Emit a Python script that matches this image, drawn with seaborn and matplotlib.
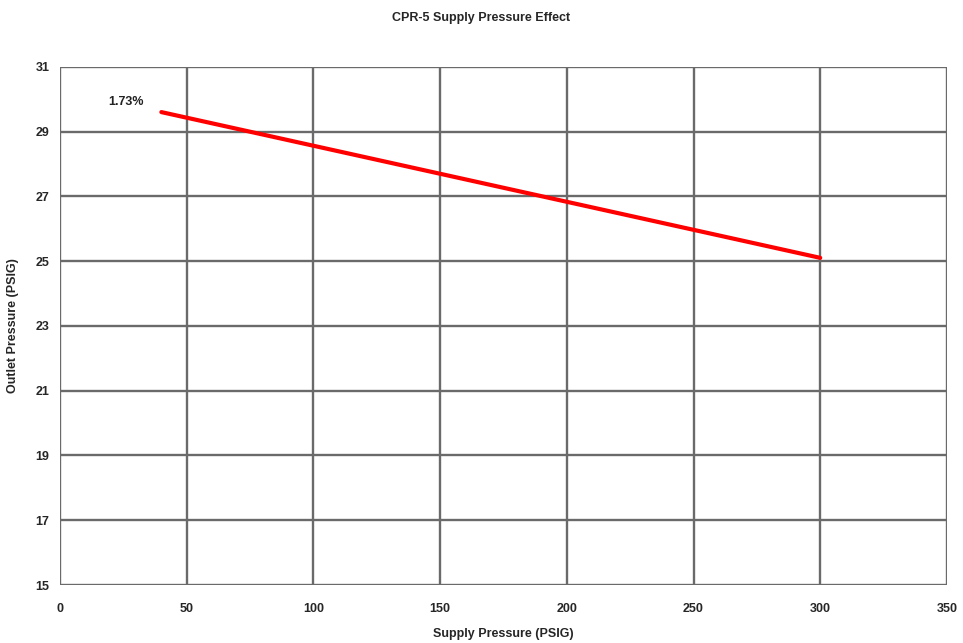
import matplotlib
matplotlib.use("Agg")
import matplotlib.pyplot as plt
import seaborn as sns
import pandas as pd

# values
supply_psig = [40, 300]
outlet_psig = [29.6, 25.1]
slope_label = "1.73%"
label_pos = (26, 29.9)

x_ticks = list(range(0, 351, 50))
y_ticks = list(range(15, 32, 2))

df = pd.DataFrame({"supply": supply_psig, "outlet": outlet_psig})

sns.set_style("white")
plt.rcParams['font.family'] = ['Liberation Sans', 'DejaVu Sans']

fig = plt.figure(figsize=(9.63, 6.43), dpi=100)
ax = fig.add_axes([0.0623, 0.0902, 0.921, 0.806])

sns.lineplot(data=df, x="supply", y="outlet", color="#ff0000", linewidth=3, ax=ax)

ax.set_xlim(0, 350)
ax.set_ylim(15, 31)
ax.set_xticks(x_ticks)
ax.set_yticks(y_ticks)
ax.grid(True, color="#6a6a6a", linewidth=1.7)
ax.set_axisbelow(True)
for side in ["top", "right", "bottom", "left"]:
    ax.spines[side].set_visible(False)
ax.tick_params(axis="both", length=4, color="#808080", labelsize=9)
ax.tick_params(axis="x", pad=9)
for lab in ax.get_xticklabels() + ax.get_yticklabels():
    lab.set_fontweight("bold")

ax.text(label_pos[0], label_pos[1], slope_label, ha="center", va="center",
        fontsize=9, fontweight="bold", color="#222222")

ax.set_xlabel("Supply Pressure (PSIG)", fontsize=9, fontweight="bold", labelpad=9)
ax.set_ylabel("Outlet Pressure (PSIG)", fontsize=9, fontweight="bold", labelpad=12)
fig.suptitle("CPR-5 Supply Pressure Effect", fontsize=9, fontweight="bold", y=0.982)

fig.savefig("out.png", dpi=100)
plt.close()
